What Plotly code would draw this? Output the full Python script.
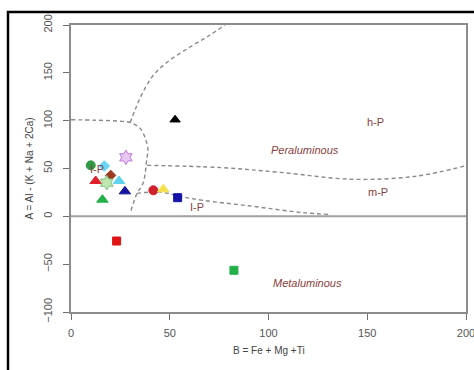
import plotly.graph_objects as go

# Sample compositions: B = Fe + Mg + Ti, A = Al - (K + Na + 2Ca)
b_vals = [10.0, 16.9, 20.1, 12.5, 18.1, 24.3, 27.3, 15.9, 27.8, 41.7, 46.7, 54.0, 23.1, 82.5, 52.7]
a_vals = [53.3, 52.6, 42.8, 36.9, 35.2, 36.9, 26.1, 17.4, 61.7, 27.2, 28.2, 19.5, -25.8, -56.4, 101.0]
symbols = ["circle", "diamond", "diamond", "triangle-up", "hexagram", "triangle-up", "triangle-up",
           "triangle-up", "hexagram", "circle", "triangle-up", "square", "square", "square", "triangle-up"]
fills = ["#2f9a45", "#66d6f2", "#9c3a22", "#e0202a", "#bfe8b0", "#5cd2ec", "#14149c",
         "#22b04a", "#e8c8f2", "#d0202e", "#f4e04a", "#1414a8", "#e01414", "#22b04a", "#000000"]
edges = ["#2f9a45", "#66d6f2", "#9c3a22", "#e0202a", "#7cc47a", "#5cd2ec", "#14149c",
         "#22b04a", "#c07ad8", "#d0202e", "#f4e04a", "#1414a8", "#e01414", "#22b04a", "#000000"]
sizes = [9, 8, 8, 10, 11, 10, 10, 10, 11, 9, 10, 8, 8, 8, 9]

# Field boundaries (dashed)
bound_ip_b = [0, 12, 24, 30, 35, 38, 39, 38.5, 36.5, 33.4, 30]
bound_ip_a = [101, 100.5, 99.5, 98, 92, 79, 69, 62, 34.5, 24, 3]
bound_hp_b = [30, 32.4, 36, 41.5, 48.6, 60.3, 70, 78]
bound_hp_a = [98, 111, 128, 147, 161, 177, 189, 200]
bound_mp_b = [38.5, 75.4, 105.8, 142.8, 175, 200]
bound_mp_a = [53.3, 51, 46, 38.7, 42, 53]
bound_lp_b = [33.4, 45, 55, 66.8, 90, 117, 131]
bound_lp_a = [24, 25.5, 21, 16.7, 11, 4, 2]

# Field labels
field_text = ["h-P", "Peraluminous", "m-P", "I-P", "I-P", "Metaluminous"]
field_b = [154, 118.5, 155.5, 64, 13.4, 119.5]
field_a = [98.6, 69, 25, 9.4, 49.5, -70]
field_italic = [False, True, False, False, False, True]

x_ticks = [0, 50, 100, 150, 200]
y_ticks = [-100, -50, 0, 50, 100, 150, 200]

fig = go.Figure()

dash_style = dict(color="#8a8a8a", width=1.4, dash="4px,3px", shape="spline")
for bx, ay in [(bound_ip_b, bound_ip_a), (bound_hp_b, bound_hp_a),
               (bound_mp_b, bound_mp_a), (bound_lp_b, bound_lp_a)]:
    fig.add_trace(go.Scatter(x=bx, y=ay, mode="lines", line=dash_style,
                             hoverinfo="skip", showlegend=False))

# Zero line for A
fig.add_trace(go.Scatter(x=[0, 200], y=[0, 0], mode="lines",
                         line=dict(color="#a0a0a0", width=2),
                         hoverinfo="skip", showlegend=False))

fig.add_trace(go.Scatter(
    x=b_vals, y=a_vals, mode="markers", showlegend=False,
    marker=dict(symbol=symbols, color=fills, size=sizes, opacity=1,
                line=dict(color=edges, width=1)),
))

for t, bx, ay, it in zip(field_text, field_b, field_a, field_italic):
    fig.add_annotation(x=bx, y=ay, text=f"<i>{t}</i>" if it else t, showarrow=False,
                       font=dict(family="Liberation Sans, Arial", size=11, color="#8a4040"))

# Axis titles
fig.add_annotation(xref="paper", yref="paper", x=0.5, y=-0.135, yanchor="middle",
                   text="B = Fe + Mg +Ti", showarrow=False,
                   font=dict(family="Liberation Sans, Arial", size=10, color="#444444"))
fig.add_annotation(xref="paper", yref="paper", x=-0.104, y=0.5, xanchor="center",
                   text="A = Al - (K + Na + 2Ca)", textangle=-90, showarrow=False,
                   font=dict(family="Liberation Sans, Arial", size=10, color="#444444"))

# Outer frame
fig.add_shape(type="rect", xref="paper", yref="paper",
              x0=-0.1595, x1=1.03, y0=-0.25, y1=1.0453,
              line=dict(color="#000000", width=2.5), layer="above")

axis_common = dict(showgrid=False, zeroline=False, showline=True, linecolor="#8c8c8c",
                   linewidth=1.5, mirror=True, ticks="outside", ticklen=6,
                   tickcolor="#707070", tickwidth=1, automargin=False,
                   ticklabeloverflow="allow",
                   tickfont=dict(family="Liberation Sans, Arial", size=11, color="#555555"))

fig.update_layout(
    width=474, height=370,
    margin=dict(l=71, r=8, t=25, b=58),
    paper_bgcolor="white", plot_bgcolor="white",
    xaxis=dict(range=[0, 200], tickvals=x_ticks, ticklabelstandoff=4, **axis_common),
    yaxis=dict(range=[-100, 200], tickvals=y_ticks, tickangle=-90,
               ticklabelstandoff=7, **axis_common),
)

fig.write_html("out.html")
